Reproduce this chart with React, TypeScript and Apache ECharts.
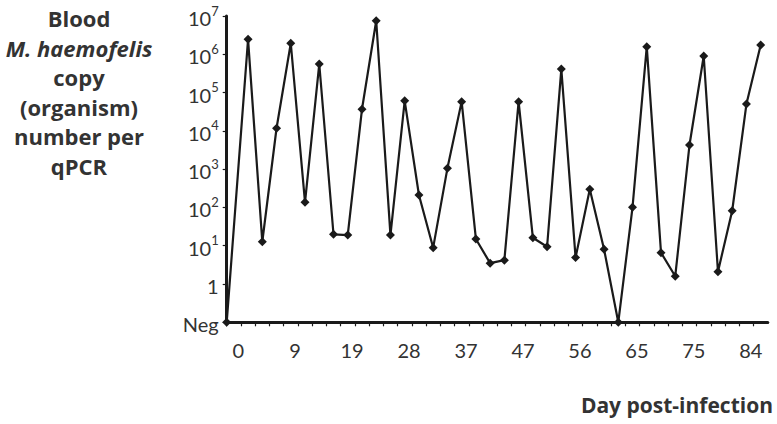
import React, { useEffect, useRef } from "react";
import * as echarts from "echarts";

// Sampling days (categories) – labels shown every 4th sample
const days = [0, 2, 5, 7, 9, 12, 14, 16, 19, 21, 23, 26, 28, 30, 33, 35, 37, 40, 42, 44, 47, 49, 51, 54, 56, 58, 61, 63, 65, 68, 70, 72, 75, 77, 79, 82, 84, 86];

// Blood M. haemofelis copy number per qPCR (0 = Neg)
const copies = [
  0, 2.46e6, 12.7, 1.17e4, 1.94e6, 136, 5.57e5, 19.9, 19, 3.66e4,
  7.5e6, 19, 6.1e4, 211, 8.9, 1050, 5.8e4, 15, 3.5, 4.2,
  5.8e4, 16.2, 9.4, 4.1e5, 4.9, 298, 8.1, 0, 101, 1.58e6,
  6.6, 1.6, 4270, 9.0e5, 2.1, 82, 5.0e4, 1.75e6,
];

const yTitleLines = ["Blood", "M. haemofelis", "copy", "(organism)", "number per", "qPCR"];
const xTitle = "Day post-infection";

const FONT = "Lato, 'Open Sans', sans-serif";
const BOLDFONT = "'Open Sans', Lato, sans-serif";
const TEXT = "#333333";
const INK = "#1a1a1a";

export default function App() {
  const ref = useRef<HTMLDivElement>(null);
  useEffect(() => {
    if (!ref.current) return;
    const chart = echarts.init(ref.current, undefined, { renderer: "svg" });
    const data = copies.map((v, i) => [i === 0 ? 0 : i + 0.5, v === 0 ? -1 : Math.log10(v)]);
    const titleGraphics = yTitleLines.map((t, i) => ({
      type: "text",
      x: 79,
      y: 18 + i * 29.5,
      style: {
        text: t,
        fill: TEXT,
        font: (i === 1 ? "italic " : "") + "bold 22px " + BOLDFONT,
        textAlign: "center",
        textVerticalAlign: "middle",
      },
    }));
    chart.setOption({
      animation: false,
      grid: { left: 226.7, right: 9.2, top: 16, bottom: 101.7, containLabel: false },
      xAxis: {
        type: "value",
        min: 0,
        max: days.length,
        interval: 1,
        splitLine: { show: false },
        axisLine: { show: true, onZero: false, lineStyle: { color: INK, width: 3 } },
        axisTick: { show: true, length: 4, lineStyle: { color: INK, width: 1.2 } },
        axisLabel: {
          show: true,
          margin: 18,
          color: TEXT,
          fontFamily: FONT,
          fontSize: 20,
          padding: [0, 0, 0, 23],
          showMaxLabel: false,
          formatter: (v: number) => {
            const i = Math.round(v);
            return i % 4 === 0 && i < days.length && Math.abs(v - i) < 1e-6 ? String(days[i]) : "";
          },
        },
      },
      yAxis: {
        type: "value",
        min: -1,
        max: 7,
        interval: 1,
        splitLine: { show: false },
        axisLine: { show: true, lineStyle: { color: INK, width: 3 } },
        axisTick: { show: true, length: 4, lineStyle: { color: INK, width: 1.2 } },
        axisLabel: {
          margin: 8,
          color: TEXT,
          fontFamily: FONT,
          fontSize: 20,
          formatter: (v: number) => (v === -1 ? "{b|Neg}" : v === 0 ? "{b|1}" : "{b|10}{s|" + v + "}"),
          rich: {
            b: { fontSize: 20, fontFamily: FONT, color: TEXT, lineHeight: 24, verticalAlign: "bottom" },
            s: { fontSize: 13, fontFamily: FONT, color: TEXT, lineHeight: 24, verticalAlign: "top", padding: [0, 0, 8, 0] },
          },
        },
      },
      series: [
        {
          type: "line",
          data,
          symbol: "diamond",
          symbolSize: 9,
          clip: false,
          itemStyle: { color: INK },
          lineStyle: { color: INK, width: 2.2 },
          z: 3,
        },
      ],
      graphic: [
        ...titleGraphics,
        {
          type: "text",
          x: 773,
          y: 405,
          style: {
            text: xTitle,
            fill: TEXT,
            font: "bold 21px " + BOLDFONT,
            textAlign: "right",
            textVerticalAlign: "middle",
          },
        },
      ],
    });
    return () => chart.dispose();
  }, []);
  return <div ref={ref} style={{ position: "absolute", left: 0, top: 0, width: 777, height: 424 }} />;
}
